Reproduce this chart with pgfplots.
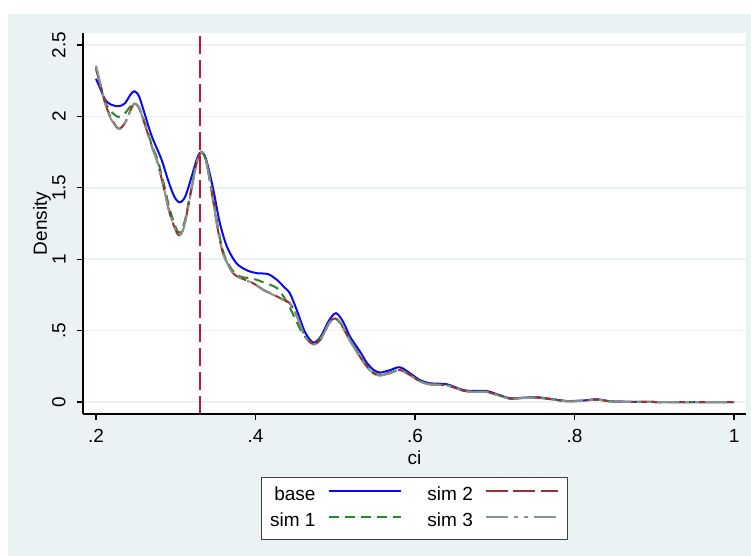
\documentclass[border=0pt]{standalone}
\usepackage{pgfplots}
\pgfplotsset{compat=1.18}
\usepackage{fontspec}
\setmainfont{Liberation Sans}
\definecolor{bgc}{HTML}{EAF2F3}
\definecolor{cblue}{HTML}{0A0AF0}
\definecolor{cgreen}{HTML}{2A8A2A}
\definecolor{cred}{HTML}{9B3030}
\definecolor{cgray}{HTML}{82948C}
\definecolor{cvline}{RGB}{200,16,58}
\newcommand{\ff}{\fontsize{9.5}{11.5}\selectfont}

\pgfplotstableread{
x y
0.200 2.263
0.205 2.20
0.211 2.12
0.218 2.085
0.228 2.071
0.236 2.09
0.243 2.15
0.248 2.176
0.254 2.14
0.262 2.00
0.270 1.86
0.282 1.70
0.290 1.56
0.298 1.44
0.305 1.398
0.312 1.44
0.320 1.58
0.327 1.71
0.332 1.752
0.338 1.70
0.347 1.49
0.355 1.26
0.364 1.09
0.376 0.972
0.390 0.92
0.402 0.902
0.416 0.895
0.428 0.85
0.435 0.809
0.443 0.762
0.452 0.64
0.462 0.49
0.4725 0.416
0.482 0.46
0.492 0.57
0.501 0.622
0.510 0.56
0.5185 0.458
0.531 0.353
0.540 0.271
0.548 0.225
0.556 0.206
0.568 0.222
0.581 0.243
0.594 0.20
0.606 0.154
0.619 0.131
0.640 0.124
0.660 0.084
0.675 0.077
0.690 0.077
0.705 0.05
0.719 0.026
0.735 0.030
0.753 0.033
0.770 0.022
0.790 0.007
0.810 0.010
0.828 0.019
0.845 0.005
0.870 0.001
0.900 0.000
1.000 0.000
}\base

\pgfplotstableread{
x y
0.200 2.345
0.205 2.24
0.211 2.11
0.218 2.04
0.228 1.996
0.236 2.02
0.243 2.07
0.248 2.09
0.254 2.06
0.262 1.94
0.270 1.80
0.277 1.70
0.285 1.53
0.293 1.34
0.303 1.19
0.310 1.24
0.318 1.45
0.326 1.67
0.332 1.748
0.338 1.69
0.346 1.46
0.353 1.22
0.360 1.043
0.370 0.93
0.381 0.879
0.393 0.867
0.402 0.855
0.410 0.837
0.427 0.797
0.439 0.703
0.450 0.58
0.460 0.47
0.4725 0.410
0.482 0.45
0.492 0.55
0.4997 0.590
0.508 0.54
0.518 0.44
0.530 0.33
0.540 0.25
0.548 0.205
0.556 0.190
0.568 0.205
0.581 0.226
0.594 0.19
0.606 0.146
0.619 0.125
0.640 0.118
0.660 0.080
0.675 0.072
0.690 0.072
0.705 0.046
0.719 0.024
0.735 0.028
0.753 0.031
0.770 0.020
0.790 0.006
0.810 0.009
0.828 0.017
0.845 0.004
0.870 0.001
0.900 0.000
1.000 0.000
}\simone

\pgfplotstableread{
x y
0.200 2.330
0.205 2.23
0.211 2.10
0.218 2.00
0.228 1.915
0.236 1.95
0.243 2.04
0.248 2.088
0.254 2.06
0.262 1.93
0.270 1.79
0.277 1.68
0.285 1.50
0.293 1.31
0.303 1.171
0.310 1.22
0.318 1.44
0.326 1.67
0.332 1.748
0.338 1.69
0.346 1.44
0.353 1.20
0.360 1.03
0.372 0.902
0.385 0.86
0.393 0.844
0.402 0.815
0.410 0.785
0.425 0.745
0.435 0.715
0.443 0.692
0.452 0.60
0.462 0.46
0.4725 0.405
0.482 0.44
0.492 0.55
0.4997 0.585
0.508 0.535
0.518 0.435
0.530 0.325
0.540 0.245
0.548 0.200
0.556 0.187
0.568 0.202
0.581 0.224
0.594 0.188
0.606 0.145
0.619 0.124
0.640 0.117
0.660 0.080
0.675 0.072
0.690 0.071
0.705 0.046
0.719 0.024
0.735 0.028
0.753 0.031
0.770 0.020
0.790 0.006
0.810 0.009
0.828 0.017
0.845 0.004
0.870 0.001
0.900 0.000
1.000 0.000
}\simtwo

\pgfplotstableread{
x y
0.200 2.355
0.205 2.24
0.211 2.10
0.218 1.99
0.228 1.913
0.236 1.95
0.243 2.04
0.248 2.090
0.254 2.06
0.262 1.93
0.270 1.79
0.277 1.68
0.285 1.50
0.293 1.31
0.303 1.170
0.310 1.22
0.318 1.44
0.326 1.67
0.332 1.750
0.338 1.69
0.346 1.44
0.353 1.20
0.360 1.03
0.372 0.900
0.385 0.858
0.393 0.842
0.402 0.813
0.410 0.783
0.425 0.743
0.435 0.713
0.443 0.690
0.452 0.60
0.462 0.46
0.4725 0.403
0.482 0.44
0.492 0.55
0.4997 0.583
0.508 0.533
0.518 0.433
0.530 0.323
0.540 0.243
0.548 0.198
0.556 0.185
0.568 0.200
0.581 0.222
0.594 0.186
0.606 0.144
0.619 0.123
0.640 0.116
0.660 0.079
0.675 0.071
0.690 0.070
0.705 0.045
0.719 0.023
0.735 0.027
0.753 0.030
0.770 0.019
0.790 0.005
0.810 0.008
0.828 0.016
0.845 0.004
0.870 0.001
0.900 0.000
1.000 0.000
}\simthree

\pgfplotstableread{
x y
0.33 -0.084
0.33 2.584
}\vl

\begin{document}
\begin{tikzpicture}[x=1pt,y=1pt]
\useasboundingbox (0,0) rectangle (375.5,278);
\fill[white] (0,0) rectangle (375.5,278);
\fill[bgc] (4,0) rectangle (375.5,271);
\fill[white] (41.5,71) rectangle (373,261.5);
\begin{axis}[
  at={(41.5pt,71pt)}, anchor=south west,
  width=331.5pt, height=190.5pt, scale only axis,
  xmin=0.1837, xmax=1.015, ymin=-0.084, ymax=2.584,
  axis x line*=bottom, axis y line*=left,
  axis line style={-, black, line width=0.8pt},
  tick align=outside, major tick length=3pt,
  tick style={black, line width=0.6pt},
  xtick={0.2,0.4,0.6,0.8,1}, xticklabels={.2,.4,.6,.8,1},
  ytick={0,0.5,1,1.5,2,2.5}, yticklabels={0,.5,1,1.5,2,2.5},
  ymajorgrids, grid style={bgc, line width=0.8pt},
  font=\ff,
  ticklabel style={font=\ff},
  xticklabel style={anchor=north, inner xsep=0pt, inner ysep=4.5pt},
  yticklabel style={rotate=90, anchor=south, inner xsep=0pt, inner ysep=5.5pt},
  xlabel={ci}, ylabel={Density},
  xlabel style={at={(axis description cs:0.5,0)}, anchor=center, yshift=-21.75pt, font=\ff},
  ylabel style={at={([xshift=-20.5pt]axis description cs:0,0.5)}, anchor=center, font=\ff},
  legend columns=2,
  legend plot pos=right,
  legend cell align=right,
  legend image code/.code={\draw[#1] (0pt,0.25em) -- (36pt,0.25em);},
  legend style={at={(axis description cs:0.5,0)}, anchor=north, yshift=-31.5pt,
    draw=black!75, line width=0.6pt, fill=white,
    font=\ff,
    inner xsep=4.5pt, inner ysep=4.8pt,
    nodes={inner sep=0pt},
    row sep=4.6pt,
    /tikz/every odd column/.append style={column sep=6pt},
    /tikz/every even column/.append style={column sep=13pt}},
]
\addplot[cblue, line width=1pt, smooth, tension=0.5, forget plot] table {\base};
\addplot[cgreen, line width=1pt, dash pattern=on 5pt off 3pt, smooth, tension=0.5, forget plot] table {\simone};
\addplot[cred, line width=1pt, dash pattern=on 11pt off 2.8pt, smooth, tension=0.5, forget plot] table {\simtwo};
\addplot[cgray, line width=1pt, dash pattern=on 11pt off 3pt on 2pt off 3pt on 2pt off 3pt, smooth, tension=0.5, forget plot] table {\simthree};
\addplot[draw=cvline, color=cvline, line width=0.9pt, dash pattern=on 9pt off 3pt, forget plot] table {\vl};
\addlegendimage{cblue, line width=1pt}
\addlegendentry{base}
\addlegendimage{cred, line width=1pt, dash pattern=on 11pt off 2.8pt}
\addlegendentry{sim 2}
\addlegendimage{cgreen, line width=1pt, dash pattern=on 5pt off 3pt}
\addlegendentry{sim 1}
\addlegendimage{cgray, line width=1pt, dash pattern=on 11pt off 3pt on 2pt off 3pt on 2pt off 3pt}
\addlegendentry{sim 3}
\end{axis}
\end{tikzpicture}
\end{document}
